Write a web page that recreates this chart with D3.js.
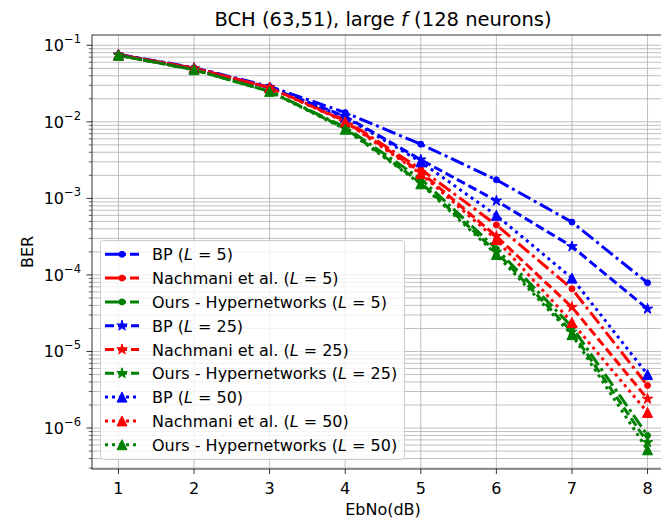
<!DOCTYPE html>
<html>
<head>
<meta charset="utf-8">
<script src="https://cdn.jsdelivr.net/npm/d3@7"></script>
<style>
  body { margin: 0; background: #fff; }
  text { font-family: "DejaVu Sans", sans-serif; fill: #000; }
</style>
</head>
<body>
<div id="chart"></div>
<script>
// EbNo values (dB)
var ebno = [1, 2, 3, 4, 5, 6, 7, 8];

// BER
var bpL5 = [0.076, 0.051, 0.029, 0.0132, 0.0051, 0.00175, 0.00049, 7.9e-5];
var nachL5 = [0.075, 0.050, 0.028, 0.0105, 0.0024, 0.00045, 6.6e-5, 3.6e-6];
var oursL5 = [0.074, 0.048, 0.025, 0.0085, 0.0018, 0.00022, 2.1e-5, 8.0e-7];
var bpL25 = [0.075, 0.050, 0.028, 0.0118, 0.0032, 0.00093, 0.000235, 3.6e-5];
var nachL25 = [0.075, 0.050, 0.028, 0.0102, 0.0022, 0.00032, 3.8e-5, 2.4e-6];
var oursL25 = [0.074, 0.048, 0.025, 0.0082, 0.0016, 0.0002, 1.8e-5, 6.5e-7];
var bpL50 = [0.075, 0.050, 0.028, 0.0115, 0.0030, 0.0006, 9.1e-5, 5.0e-6];
var nachL50 = [0.075, 0.050, 0.028, 0.0100, 0.0021, 0.00029, 2.4e-5, 1.6e-6];
var oursL50 = [0.074, 0.048, 0.025, 0.0080, 0.00155, 0.000185, 1.66e-5, 5.2e-7];

var methodNames = ["BP", "Nachmani et al.", "Ours - Hypernetworks"];
var layerCounts = [5, 25, 50];
var xTicks = [1, 2, 3, 4, 5, 6, 7, 8];
var yTickExps = [-1, -2, -3, -4, -5, -6];

var svgWidth = 661;
var svgHeight = 521;
var plot = { left: 92, right: 674, top: 35, bottom: 469 };

var colors = ["#0000ff", "#ff0000", "#008000"];
var dashes = ["14,4,3,4", "9,4", "3,4"];
var markers = ["circle", "star", "triangle"];

var series = [];
var values = [[bpL5, nachL5, oursL5], [bpL25, nachL25, oursL25], [bpL50, nachL50, oursL50]];
layerCounts.forEach(function(L, i) {
    methodNames.forEach(function(name, j) {
        series.push({ name: name, L: L, values: values[i][j], color: colors[j], dash: dashes[i], marker: markers[i] });
    });
});

var svg = d3.select("#chart")
    .append("svg")
    .attr("width", svgWidth)
    .attr("height", svgHeight);

var x = d3.scaleLinear()
    .domain([0.65, 8.35])
    .range([plot.left, plot.right]);

var y = d3.scaleLog()
    .domain([Math.pow(10, -6.535), Math.pow(10, -0.866)])
    .range([plot.bottom, plot.top]);

svg.append("clipPath").attr("id", "clip")
    .append("rect")
    .attr("x", plot.left).attr("y", plot.top)
    .attr("width", plot.right - plot.left).attr("height", plot.bottom - plot.top);

// grid: vertical majors, horizontal majors + minors
var grid = svg.append("g").attr("stroke", "#b0b0b0").attr("stroke-width", 0.8);
xTicks.forEach(function(t) {
    grid.append("line")
        .attr("x1", x(t)).attr("x2", x(t))
        .attr("y1", plot.top).attr("y2", plot.bottom);
});
var yMinor = [];
for (var e = -7; e <= 0; e++) {
    for (var m = 1; m <= 9; m++) {
        var v = m * Math.pow(10, e);
        if (y(v) >= plot.top && y(v) <= plot.bottom) yMinor.push({ v: v, major: m === 1 });
    }
}
yMinor.forEach(function(d) {
    grid.append("line")
        .attr("x1", plot.left).attr("x2", plot.right)
        .attr("y1", y(d.v)).attr("y2", y(d.v));
});

// marker shapes
function markerPath(type) {
    if (type === "triangle") {
        return "M0,-5L-5,5L5,5Z";
    }
    if (type === "star") {
        var pts = [];
        for (var k = 0; k < 10; k++) {
            var r = k % 2 === 0 ? 5.5 : 5.5 * 0.382;
            var a = -Math.PI / 2 + k * Math.PI / 5;
            pts.push([r * Math.cos(a), r * Math.sin(a)]);
        }
        return "M" + pts.join("L") + "Z";
    }
    return d3.symbol(d3.symbolCircle, 28)();
}

var line = d3.line()
    .x(function(d, i) { return x(ebno[i]); })
    .y(function(d) { return y(d); });

var plotG = svg.append("g").attr("clip-path", "url(#clip)");

series.forEach(function(s) {
    var g = plotG.append("g");
    g.append("path")
        .attr("d", line(s.values))
        .attr("fill", "none")
        .attr("stroke", s.color)
        .attr("stroke-width", 3)
        .attr("stroke-dasharray", s.dash);
    g.selectAll("path.mk")
        .data(s.values)
        .enter()
        .append("path")
        .attr("class", "mk")
        .attr("transform", function(d, i) { return "translate(" + x(ebno[i]) + "," + y(d) + ")"; })
        .attr("d", markerPath(s.marker))
        .attr("fill", s.color)
        .attr("stroke", s.color)
        .attr("stroke-width", 1);
});

// spines
svg.append("rect")
    .attr("x", plot.left).attr("y", plot.top)
    .attr("width", plot.right - plot.left).attr("height", plot.bottom - plot.top)
    .attr("fill", "none").attr("stroke", "#000").attr("stroke-width", 0.8);

// x ticks
xTicks.forEach(function(t) {
    svg.append("line")
        .attr("x1", x(t)).attr("x2", x(t))
        .attr("y1", plot.bottom).attr("y2", plot.bottom + 5)
        .attr("stroke", "#000").attr("stroke-width", 0.8);
    svg.append("text")
        .attr("x", x(t)).attr("y", plot.bottom + 25)
        .attr("text-anchor", "middle")
        .attr("font-size", "16px")
        .text(t);
});

// y ticks
yMinor.forEach(function(d) {
    svg.append("line")
        .attr("x1", plot.left - (d.major ? 5.5 : 3.2)).attr("x2", plot.left)
        .attr("y1", y(d.v)).attr("y2", y(d.v))
        .attr("stroke", "#000").attr("stroke-width", d.major ? 0.8 : 0.6);
});
yTickExps.forEach(function(e) {
    var t = svg.append("text")
        .attr("x", plot.left - 11).attr("y", y(Math.pow(10, e)) + 6)
        .attr("text-anchor", "end")
        .attr("font-size", "16px");
    t.append("tspan").text("10");
    t.append("tspan").attr("dy", -8).attr("font-size", "11.5px").text("\u2212" + (-e));
});

// axis labels and title
svg.append("text")
    .attr("x", (plot.left + plot.right) / 2).attr("y", 515)
    .attr("text-anchor", "middle").attr("font-size", "16px")
    .text("EbNo(dB)");

svg.append("text")
    .attr("transform", "translate(33," + (plot.top + plot.bottom) / 2 + ") rotate(-90)")
    .attr("text-anchor", "middle").attr("font-size", "16px")
    .text("BER");

var title = svg.append("text")
    .attr("x", (plot.left + plot.right) / 2).attr("y", 26)
    .attr("text-anchor", "middle").attr("font-size", "19.5px");
title.append("tspan").text("BCH (63,51), large ");
title.append("tspan").attr("font-style", "italic").text("f");
title.append("tspan").text(" (128 neurons)");

// legend
var legend = svg.append("g");
legend.append("rect")
    .attr("x", 100.5).attr("y", 240.5)
    .attr("width", 304).attr("height", 219)
    .attr("rx", 3)
    .attr("fill", "#fff").attr("fill-opacity", 0.8)
    .attr("stroke", "#cccccc").attr("stroke-width", 1);

series.forEach(function(s, i) {
    var cy = 254.3 + i * 23.8;
    var item = legend.append("g");
    item.append("line")
        .attr("x1", 105).attr("x2", 139)
        .attr("y1", cy).attr("y2", cy)
        .attr("stroke", s.color).attr("stroke-width", 3)
        .attr("stroke-dasharray", s.dash);
    item.append("path")
        .attr("transform", "translate(122," + cy + ")")
        .attr("d", markerPath(s.marker))
        .attr("fill", s.color).attr("stroke", s.color).attr("stroke-width", 1);
    var t = item.append("text")
        .attr("x", 152).attr("y", cy + 6)
        .attr("font-size", "16px");
    t.append("tspan").text(s.name + " (");
    t.append("tspan").attr("font-style", "italic").text("L");
    t.append("tspan").text(" = " + s.L + ")");
});
</script>
</body>
</html>
